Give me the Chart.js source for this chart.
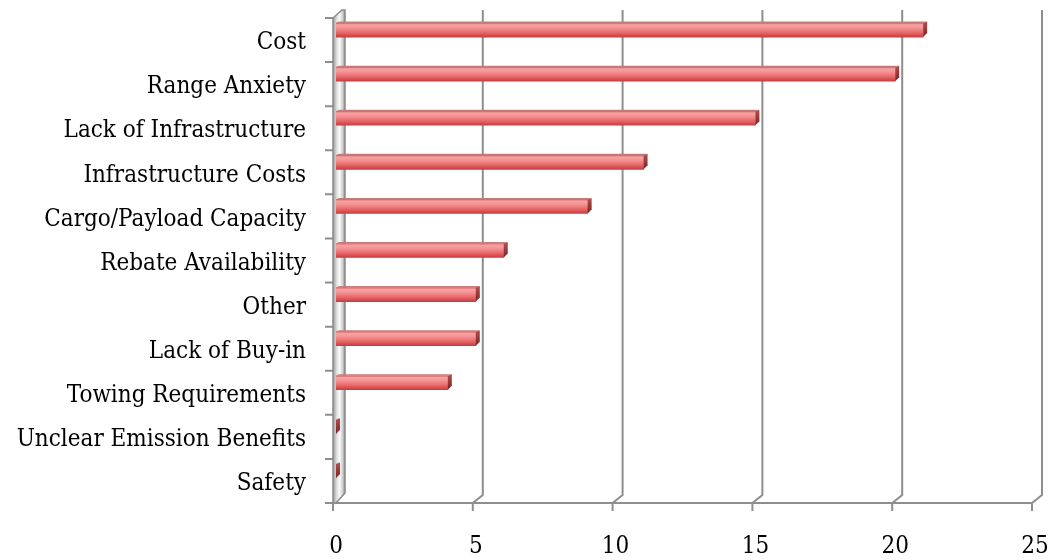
<!DOCTYPE html>
<html>
<head>
<meta charset="utf-8">
<script src="https://cdn.jsdelivr.net/npm/chart.js@4/dist/chart.umd.min.js"></script>
<style>
  html, body { margin: 0; padding: 0; background: #fff; }
  #wrap { width: 1049px; height: 560px; }
</style>
</head>
<body>
<div id="wrap"><canvas id="canvas" width="1049" height="560"></canvas></div>
<script>
// barriers, top to bottom
const categories = [
  'Cost', 'Range Anxiety', 'Lack of Infrastructure', 'Infrastructure Costs',
  'Cargo/Payload Capacity', 'Rebate Availability', 'Other', 'Lack of Buy-in',
  'Towing Requirements', 'Unclear Emission Benefits', 'Safety'
];
const responses = [21, 20, 15, 11, 9, 6, 5, 5, 4, 0, 0];
const xTicks = [0, 5, 10, 15, 20, 25];

// 3d look: back wall offset and where the bars sit in depth
const DX = 10, DY = 8;
const BAR_SHIFT_X = 3, BAR_SHIFT_Y = -10;
const BAR_H = 14;
const FONT = { family: "'DejaVu Serif Condensed', 'Liberation Serif', serif", size: 24 };

function barFill(c) {
  const yScale = c.chart.scales.y;
  if (!yScale || c.dataIndex === undefined) return '#e86a6c';
  const yc = yScale.getPixelForValue(c.dataIndex);
  if (!isFinite(yc)) return '#e86a6c';
  const g = c.chart.ctx.createLinearGradient(0, yc - BAR_H / 2, 0, yc + BAR_H / 2);
  g.addColorStop(0, '#d06466');
  g.addColorStop(0.12, '#f6a4a4');
  g.addColorStop(0.35, '#f49393');
  g.addColorStop(0.7, '#e86567');
  g.addColorStop(1, '#c63d40');
  return g;
}

const depth = {
  id: 'depth',
  beforeDraw(chart) {
    const ctx = chart.ctx;
    const a = chart.chartArea;
    const x = chart.scales.x;
    ctx.save();

    // back grid lines folding down to the floor edge
    ctx.strokeStyle = '#8e8e8e';
    ctx.lineWidth = 2;
    xTicks.slice(1).forEach(v => {
      const px = x.getPixelForValue(v);
      ctx.beginPath();
      ctx.moveTo(px + DX, a.top - DY);
      ctx.lineTo(px + DX, a.bottom - DY);
      ctx.lineTo(px, a.bottom);
      ctx.stroke();
    });

    // floor edge and tick marks
    ctx.beginPath();
    ctx.moveTo(a.left - 8, a.bottom);
    ctx.lineTo(x.getPixelForValue(25), a.bottom);
    xTicks.forEach(v => {
      const px = x.getPixelForValue(v);
      ctx.moveTo(px, a.bottom);
      ctx.lineTo(px, a.bottom + 8);
    });
    // category boundaries on the left
    for (let i = 0; i <= categories.length; i++) {
      const py = a.top + (a.bottom - a.top) * i / categories.length;
      ctx.moveTo(a.left - 8, py);
      ctx.lineTo(a.left, py);
    }
    ctx.stroke();

    // side wall
    const L = a.left;
    const g = ctx.createLinearGradient(L, 0, L + DX + 2, 0);
    g.addColorStop(0, '#9a9a9a');
    g.addColorStop(0.3, '#dcdcdc');
    g.addColorStop(0.55, '#fbfbfb');
    g.addColorStop(0.8, '#cfcfcf');
    g.addColorStop(1, '#909090');
    ctx.fillStyle = g;
    ctx.beginPath();
    ctx.moveTo(L, a.top);
    ctx.lineTo(L + DX - 1, a.top - DY);
    ctx.lineTo(L + DX + 2, a.top - DY);
    ctx.lineTo(L + DX + 2, a.bottom - DY - 2);
    ctx.lineTo(L + 3, a.bottom);
    ctx.lineTo(L, a.bottom);
    ctx.closePath();
    ctx.fill();
    ctx.strokeStyle = '#8a8a8a';
    ctx.lineWidth = 1.5;
    ctx.stroke();
    ctx.restore();
  },
  beforeDatasetsDraw(chart) {
    chart.ctx.save();
    chart.ctx.translate(BAR_SHIFT_X, BAR_SHIFT_Y);
  },
  afterDatasetsDraw(chart) {
    const ctx = chart.ctx;
    const meta = chart.getDatasetMeta(0);
    meta.data.forEach(bar => {
      const top = bar.y - BAR_H / 2;
      const bot = bar.y + BAR_H / 2;
      // top face
      ctx.fillStyle = '#c97a7a';
      ctx.beginPath();
      ctx.moveTo(bar.base, top);
      ctx.lineTo(bar.base + 3, top - 1.5);
      ctx.lineTo(bar.x + 4, top - 1.5);
      ctx.lineTo(bar.x, top);
      ctx.closePath();
      ctx.fill();
      // end cap
      const g = ctx.createLinearGradient(0, top, 0, bot);
      g.addColorStop(0, '#b04a4c');
      g.addColorStop(1, '#7a2426');
      ctx.fillStyle = g;
      ctx.beginPath();
      ctx.moveTo(bar.x, top);
      ctx.lineTo(bar.x + 4, top - 1.5);
      ctx.lineTo(bar.x + 4, bot - 4);
      ctx.lineTo(bar.x, bot);
      ctx.closePath();
      ctx.fill();
    });
    ctx.restore();
  }
};

const config = {
  type: 'bar',
  data: {
    labels: categories,
    datasets: [{
      data: responses,
      backgroundColor: barFill,
      borderWidth: 0,
      barThickness: BAR_H
    }]
  },
  options: {
    indexAxis: 'y',
    responsive: false,
    animation: false,
    layout: { padding: { top: 18, right: 17, left: 0, bottom: 0 } },
    plugins: { legend: { display: false }, tooltip: { enabled: false } },
    scales: {
      x: {
        min: 0,
        max: 25,
        ticks: { stepSize: 5, color: '#000', font: FONT, padding: 29, labelOffset: 3 },
        grid: { display: false, drawTicks: false },
        border: { display: false },
        afterFit: s => { s.height = 57; s.paddingLeft = 0; s.paddingRight = 0; }
      },
      y: {
        ticks: { color: '#000', font: FONT, padding: 27, labelOffset: 3 },
        grid: { display: false, drawTicks: false },
        border: { display: false },
        afterFit: s => { s.width = 333; s.paddingTop = 0; s.paddingBottom = 0; }
      }
    }
  },
  plugins: [depth]
};

var mychart = new Chart(document.getElementById('canvas').getContext('2d'), config);
</script>
</body>
</html>
